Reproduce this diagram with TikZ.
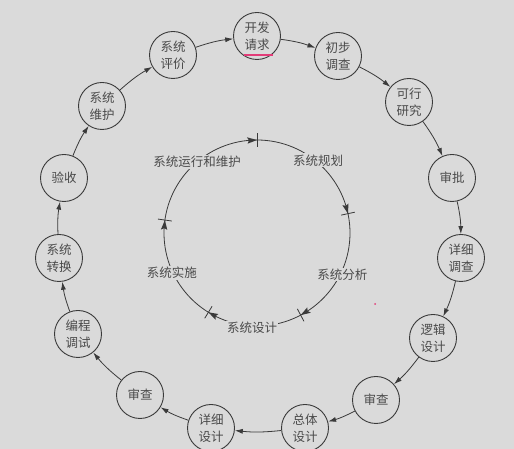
\documentclass[tikz,border=0pt]{standalone}
\usepackage{fontspec}
\setmainfont{Noto Sans CJK SC}
\usepackage{xcolor}
\usepackage{tikz}
\usetikzlibrary{arrows.meta, calc}
\definecolor{bggray}{HTML}{DADADA}
\definecolor{linegray}{HTML}{3A3A3A}
\definecolor{textgray}{HTML}{4A4A4A}
\definecolor{markpink}{HTML}{E23C78}

\tikzset{
  stage/.style={circle, draw=linegray, line width=0.9pt, minimum size=47pt,
    inner sep=0pt, align=center, text=textgray,
    font=\fontsize{12.5}{17}\selectfont},
  flow/.style={draw=linegray, line width=0.8pt, -{Latex[length=8pt,width=5pt]}},
  ring/.style={draw=linegray, line width=0.8pt},
  phase/.style={fill=bggray, inner sep=1pt, text=textgray,
    font=\fontsize{12.5}{15}\selectfont}
}

\begin{document}
\begin{tikzpicture}[x=1pt, y=1pt]
    \fill[bggray] (0,0) rectangle (514,449);
    \useasboundingbox (0,0) rectangle (514,449);

    % outer ring
    \node[stage] (req)       at (257,413) {开发\\请求};
    \node[stage] (survey)    at (338,393) {初步\\调查};
    \node[stage] (feas)      at (409,347) {可行\\研究};
    \node[stage] (approve)   at (452,271) {审批};
    \node[stage] (detsurvey) at (461,191) {详细\\调查};
    \node[stage] (logic)     at (433,111) {逻辑\\设计};
    \node[stage] (reviewa)   at (376,49)  {审查};
    \node[stage] (overall)   at (305,21)  {总体\\设计};
    \node[stage] (detdesign) at (211,21)  {详细\\设计};
    \node[stage] (reviewb)   at (140,54)  {审查};
    \node[stage] (coding)    at (78,115)  {编程\\调试};
    \node[stage] (convert)   at (59,191)  {系统\\转换};
    \node[stage] (accept)    at (64,271)  {验收};
    \node[stage] (maint)     at (102,343) {系统\\维护};
    \node[stage] (evalu)     at (173,394) {系统\\评价};

    \foreach \a/\b in {req/survey, survey/feas, feas/approve, approve/detsurvey,
        detsurvey/logic, logic/reviewa, reviewa/overall, overall/detdesign,
        detdesign/reviewb, reviewb/coding, coding/convert, convert/accept,
        accept/maint, maint/evalu, evalu/req}
      \draw[flow] (\a) to[bend left=6] (\b);

    % mark under the top node
    \draw[markpink, line width=1.8pt] (244,394) -- (273,394);
    \fill[markpink] (375,145) circle (1pt);

    % inner cycle
    \coordinate (c) at (257,216);
    \draw[ring] (c) circle[radius=93pt];

    \node[phase] (plan)    at ($(c)+(50:95pt)$)   {系统规划};
    \node[phase] (analyse) at ($(c)+(-26:95pt)$)  {系统分析};
    \node[phase] (design)  at ($(c)+(-93:95pt)$)  {系统设计};
    \node[phase] (build)   at ($(c)+(-155:94pt)$) {系统实施};
    \node[phase] (operate) at ($(c)+(130:93pt)$)  {系统运行和维护};

    % ticks, each with the head arriving clockwise
    \foreach \a in {90, 12, -62, -121.5, 172} {
      \fill[linegray] ($(c)+(\a:93pt)$) -- ($(c)+(\a+6:89.8pt)$)
        -- ($(c)+(\a+5:93pt)$) -- ($(c)+(\a+6:96.2pt)$) -- cycle;
      \draw[ring] ($(c)+(\a:86pt)$) -- ($(c)+(\a:100pt)$);
    }
  \end{tikzpicture}
\end{document}
